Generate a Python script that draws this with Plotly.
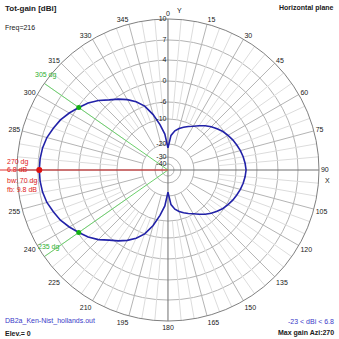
import numpy as np
import plotly.graph_objects as go

# ---- pattern data: azimuth (deg, clockwise from Y) and total gain (dBi) ----
azimuth = list(range(0, 365, 5))
gain = [
    -23, -16.5, -14.5, -13.2, -12.2, -11.2, -10.2, -9.3, -8.4, -7.6,      # 0..45
    -6.9, -6.2, -5.6, -5.0, -4.5, -4.0, -3.6, -3.3, -3.1,                 # 50..90
    -3.3, -3.6, -4.0, -4.5, -5.0, -5.6, -6.2, -6.9, -7.6,                 # 95..135
    -8.4, -9.3, -10.2, -11.2, -12.2, -13.2, -14.5, -16.5, -23,            # 140..180
    -16, -12, -8.5, -6.0, -3.9, -2.2, -0.7, 0.5, 1.8,                     # 185..225
    2.9, 3.8, 4.6, 5.3, 5.8, 6.3, 6.6, 6.75, 6.8,                         # 230..270
    6.75, 6.6, 6.3, 5.8, 5.3, 4.6, 3.8, 2.9, 1.8,                         # 275..315
    0.5, -0.7, -2.2, -3.9, -6.0, -8.5, -12, -16, -23,                     # 320..360
]

# summary values
max_gain = 6.8
max_az = 270
bw_edges = [305, 235]
bw_gain = 3.8
min_gain = -23
beamwidth = 70
front_back = 9.8

# radial grid levels (dBi) and their relative radius on the log-style scale
grid_db = [-40, -30, -20, -10, -6, 0, 4, 7, 10]
grid_rel = [0.040, 0.086, 0.172, 0.338, 0.450, 0.589, 0.728, 0.861, 1.0]


def to_r(db):
    db = np.asarray(db, dtype=float)
    return np.interp(db, grid_db, grid_rel, left=0.0)


fig = go.Figure()

GRID_FAINT = "#dcdcdc"
GRID_MID = "#b4b4b4"
AXIS_DARK = "#707070"

# spokes every 5 deg (faint) and every 15 deg (medium)
for a in range(0, 360, 5):
    if a % 90 == 0:
        continue
    if a % 15 == 0:
        fig.add_trace(go.Scatterpolar(r=[to_r(-20), 1], theta=[a, a], mode="lines",
                                      line=dict(color=GRID_MID, width=1),
                                      hoverinfo="skip", showlegend=False))
    else:
        fig.add_trace(go.Scatterpolar(r=[to_r(-10), 1], theta=[a, a], mode="lines",
                                      line=dict(color=GRID_FAINT, width=1),
                                      hoverinfo="skip", showlegend=False))
# main X / Y axes through the centre
for a in (0, 90, 180, 270):
    fig.add_trace(go.Scatterpolar(r=[0, 1], theta=[a, a], mode="lines",
                                  line=dict(color=AXIS_DARK, width=1),
                                  hoverinfo="skip", showlegend=False))

# -3 dB direction lines
for a in bw_edges:
    fig.add_trace(go.Scatterpolar(r=[0, 1], theta=[a, a], mode="lines",
                                  line=dict(color="#6cd06c", width=1),
                                  hoverinfo="skip", showlegend=False))
# max gain direction
fig.add_trace(go.Scatterpolar(r=[0, 1], theta=[max_az, max_az], mode="lines",
                              line=dict(color="#e03030", width=1),
                              hoverinfo="skip", showlegend=False))

# pattern
fig.add_trace(go.Scatterpolar(r=to_r(gain), theta=azimuth, mode="lines",
                              line=dict(color="#2222a8", width=1.6),
                              hoverinfo="skip", showlegend=False))
# markers
fig.add_trace(go.Scatterpolar(r=to_r([bw_gain, bw_gain]), theta=bw_edges, mode="markers",
                              marker=dict(color="#10b010", size=5),
                              hoverinfo="skip", showlegend=False))
fig.add_trace(go.Scatterpolar(r=to_r([max_gain]), theta=[max_az], mode="markers",
                              marker=dict(color="#e01010", size=6),
                              hoverinfo="skip", showlegend=False))

label_levels = [-40, -30, -20, -10, -6, 0, 4, 7, 10]
FONT = "Liberation Sans, Arial, sans-serif"

# angular labels; the 270 slot is taken by the max-gain readout
ang_vals = list(range(0, 360, 15))
ang_text = ["" if v == max_az else str(v) for v in ang_vals]

x0, x1 = 0.050, 0.941
y0, y1 = 0.053, 0.944
fig.update_layout(
    width=339, height=339,
    margin=dict(l=0, r=0, t=0, b=0),
    paper_bgcolor="white",
    plot_bgcolor="white",
    font=dict(family=FONT, size=7, color="#202020"),
    polar=dict(
        domain=dict(x=[x0, x1], y=[y0, y1]),
        bgcolor="white",
        angularaxis=dict(rotation=90, direction="clockwise",
                         tickvals=ang_vals, ticktext=ang_text,
                         showgrid=False, ticks="", showline=True,
                         linecolor="#808080", linewidth=1,
                         tickfont=dict(size=7, color="#202020")),
        radialaxis=dict(range=[0, 1], tickvals=list(to_r(label_levels)),
                        ticktext=[str(v) for v in label_levels],
                        showgrid=True, gridcolor=GRID_MID, gridwidth=1,
                        showline=False, ticks="", angle=90, tickangle=90,
                        side="counterclockwise",
                        tickfont=dict(size=7, color="#202020")),
    ),
)

red = "#e02020"
green = "#30b030"
blue = "#3a3ac8"
ann = [
    dict(x=0.01, y=0.995, text="<b>Tot-gain [dBi]</b>", xanchor="left", yanchor="top",
         font=dict(size=8, color="#202020")),
    dict(x=0.01, y=0.935, text="Freq=216", xanchor="left", yanchor="top",
         font=dict(size=7, color="#202020")),
    dict(x=0.99, y=0.995, text="<b>Horizontal plane</b>", xanchor="right", yanchor="top",
         font=dict(size=7, color="#202020")),
    dict(x=0.01, y=0.035, text="DB2a_Ken-Nist_hollands.out", xanchor="left", yanchor="bottom",
         font=dict(size=7, color=blue)),
    dict(x=0.01, y=0.0, text="<b>Elev.= 0</b>", xanchor="left", yanchor="bottom",
         font=dict(size=7, color="#202020")),
    dict(x=0.99, y=0.035, text=f"{min_gain} < dBi < {max_gain}", xanchor="right", yanchor="bottom",
         font=dict(size=7, color=blue)),
    dict(x=0.99, y=0.0, text=f"<b>Max gain Azi:{max_az}</b>", xanchor="right", yanchor="bottom",
         font=dict(size=7, color="#202020")),
    dict(x=0.515, y=0.985, text="Y", xanchor="left", yanchor="top", font=dict(size=7)),
    dict(x=0.952, y=0.485, text="X", xanchor="left", yanchor="top", font=dict(size=7)),
    dict(x=0.015, y=0.522, text=f"{max_az} dg", xanchor="left", yanchor="middle",
         font=dict(size=7, color=red)),
    dict(x=0.015, y=0.499, text=f"{max_gain} dB", xanchor="left", yanchor="middle",
         font=dict(size=7, color=red)),
    dict(x=0.015, y=0.466, text=f"bw: {beamwidth} dg", xanchor="left", yanchor="middle",
         font=dict(size=7, color=red)),
    dict(x=0.015, y=0.442, text=f"fb: {front_back} dB", xanchor="left", yanchor="middle",
         font=dict(size=7, color=red)),
    dict(x=0.096, y=0.78, text=f"{bw_edges[0]} dg", xanchor="left", yanchor="middle",
         font=dict(size=7, color=green)),
    dict(x=0.107, y=0.27, text=f"{bw_edges[1]} dg", xanchor="left", yanchor="middle",
         font=dict(size=7, color=green)),
]
for a in ann:
    a.update(xref="paper", yref="paper", showarrow=False)
fig.update_layout(annotations=ann)

# red max-direction line continues to the left border
yc = (y0 + y1) / 2
fig.add_shape(type="line", xref="paper", yref="paper", x0=0, x1=x0, y0=yc, y1=yc,
              line=dict(color="#e03030", width=1))

fig.write_html("out.html")
